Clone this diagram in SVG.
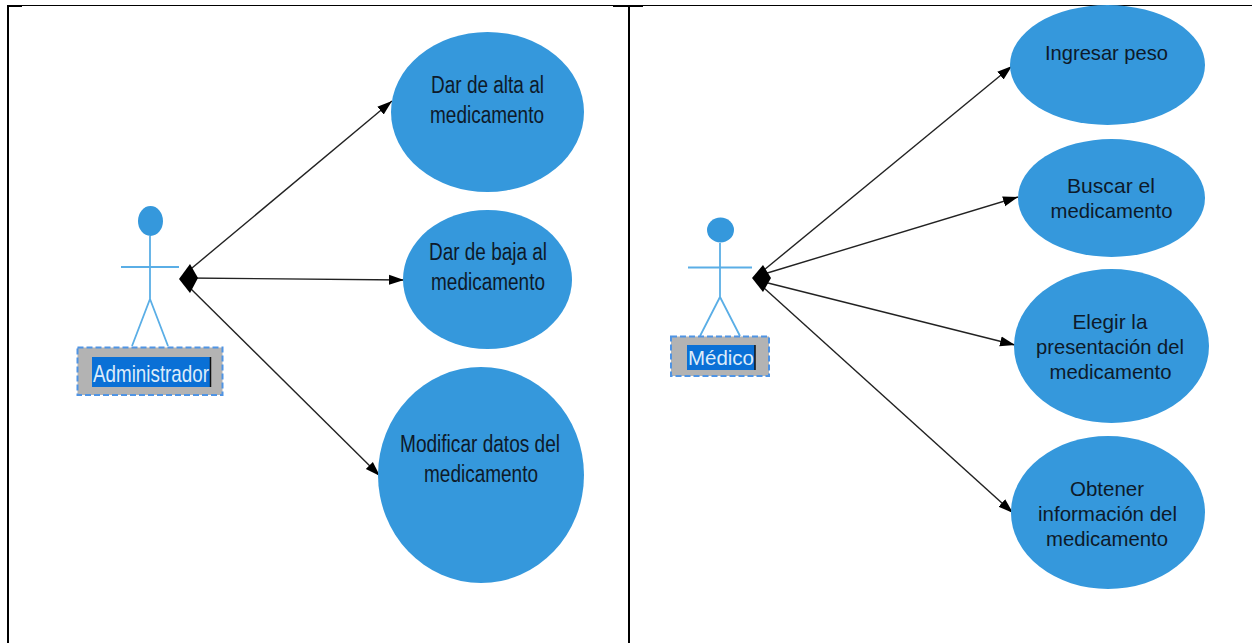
<svg xmlns="http://www.w3.org/2000/svg" width="1252" height="643" viewBox="0 0 1252 643">
<style>
.frame{stroke:#000;fill:none}
.uc{fill:#3598dc}
.t{font-family:"Liberation Sans",Arial,sans-serif;font-size:23px;fill:#0d1a2a;text-anchor:middle}
.r{font-size:21px}
.limb{stroke:#5aaee6;stroke-width:1.8;fill:none}
.head{fill:#3598dc}
.lbl{fill:#b3b3b3;stroke:#4f94e4;stroke-width:2;stroke-dasharray:6 3}
.sel{fill:#0a70d6}
.st{font-family:"Liberation Sans",Arial,sans-serif;fill:#dcecfa;text-anchor:middle}
.c{stroke:#222;stroke-width:1.4;fill:none;marker-end:url(#arrow)}
.d{fill:#000}
</style>
<defs>
<marker id="arrow" markerUnits="userSpaceOnUse" markerWidth="16" markerHeight="12" refX="15" refY="6" orient="auto"><path d="M0 1L15 6L0 11Z" fill="#000"/></marker>
</defs>
<rect width="1252" height="643" fill="#fff"/>
<g id="frame">
<path class="frame" d="M8 5.500H1252" stroke-width="1"/>
<path class="frame" d="M8 6H22M613 6H643" stroke-width="2"/>
<path class="frame" d="M8 5V643M629 5V643" stroke-width="2"/>
</g>
<g id="connectors">
<path class="c" d="M186 273L392 101"/>
<path class="c" d="M186 278L404 280" stroke-width="2"/>
<path class="c" d="M186 284L380 476"/>
<path class="c" d="M764 270L1012 66"/>
<path class="c" d="M764 274L1018 197"/>
<path class="c" d="M764 282L1015 345"/>
<path class="c" d="M764 288L1013 513"/>
<path class="d" d="M179 279L190 264L198 278L190 293Z"/>
<path class="d" d="M752 278L763 265L771 278L763 292Z"/>
</g>
<g id="admin">
<ellipse class="head" cx="150.500" cy="221" rx="12.500" ry="15"/>
<path class="limb" d="M150 236V299M121 267H179M150 299L132 346M150 299L168 346"/>
<rect class="lbl" x="77.500" y="347.500" width="145" height="47.500"/>
<rect class="sel" x="92" y="357" width="118" height="30"/>
<path d="M210.500 357V387" stroke="#111" stroke-width="1.500"/>
<text class="st" x="151" y="382" font-size="24" textLength="116" lengthAdjust="spacingAndGlyphs">Administrador</text>
</g>
<g id="medico">
<ellipse class="head" cx="720.500" cy="230" rx="13.500" ry="12.500"/>
<path class="limb" d="M720 243V297M688 267.500H752M720 297L700 336M720 297L740 336"/>
<rect class="lbl" x="671" y="336.500" width="98" height="39.500"/>
<rect class="sel" x="687" y="345" width="68" height="25"/>
<path d="M755 345V370" stroke="#111" stroke-width="1.500"/>
<text class="st" x="721" y="365" font-size="21" textLength="66" lengthAdjust="spacingAndGlyphs">Médico</text>
</g>
<g id="uc-alta">
<ellipse class="uc" cx="487.500" cy="112" rx="96.500" ry="80"/>
<text class="t" x="487.500" y="92.500" textLength="113" lengthAdjust="spacingAndGlyphs">Dar de alta al</text>
<text class="t" x="487" y="122.500" textLength="114" lengthAdjust="spacingAndGlyphs">medicamento</text>
</g>
<g id="uc-baja">
<ellipse class="uc" cx="487.500" cy="279.500" rx="84.500" ry="69.500"/>
<text class="t" x="488" y="259.500" textLength="118" lengthAdjust="spacingAndGlyphs">Dar de baja al</text>
<text class="t" x="488" y="289.500" textLength="114" lengthAdjust="spacingAndGlyphs">medicamento</text>
</g>
<g id="uc-modificar">
<ellipse class="uc" cx="481" cy="475" rx="103" ry="108"/>
<text class="t" x="480" y="451.500" textLength="160" lengthAdjust="spacingAndGlyphs">Modificar datos del</text>
<text class="t" x="481" y="481.500" textLength="114" lengthAdjust="spacingAndGlyphs">medicamento</text>
</g>
<g id="uc-peso">
<ellipse class="uc" cx="1107.500" cy="65" rx="97.500" ry="60"/>
<text class="t r" x="1106.500" y="60" textLength="123" lengthAdjust="spacingAndGlyphs">Ingresar peso</text>
</g>
<g id="uc-buscar">
<ellipse class="uc" cx="1111.500" cy="198" rx="93.500" ry="59"/>
<text class="t r" x="1111" y="193" textLength="88" lengthAdjust="spacingAndGlyphs">Buscar el</text>
<text class="t r" x="1111.500" y="218" textLength="122" lengthAdjust="spacingAndGlyphs">medicamento</text>
</g>
<g id="uc-elegir">
<ellipse class="uc" cx="1111.500" cy="346" rx="97.500" ry="77"/>
<text class="t r" x="1110" y="329" textLength="75" lengthAdjust="spacingAndGlyphs">Elegir la</text>
<text class="t r" x="1110" y="354" textLength="148" lengthAdjust="spacingAndGlyphs">presentación del</text>
<text class="t r" x="1110.500" y="379" textLength="122" lengthAdjust="spacingAndGlyphs">medicamento</text>
</g>
<g id="uc-obtener">
<ellipse class="uc" cx="1108" cy="512.500" rx="97" ry="76.500"/>
<text class="t r" x="1107" y="496" textLength="74" lengthAdjust="spacingAndGlyphs">Obtener</text>
<text class="t r" x="1107.500" y="521" textLength="139" lengthAdjust="spacingAndGlyphs">información del</text>
<text class="t r" x="1107" y="546" textLength="122" lengthAdjust="spacingAndGlyphs">medicamento</text>
</g>
</svg>
